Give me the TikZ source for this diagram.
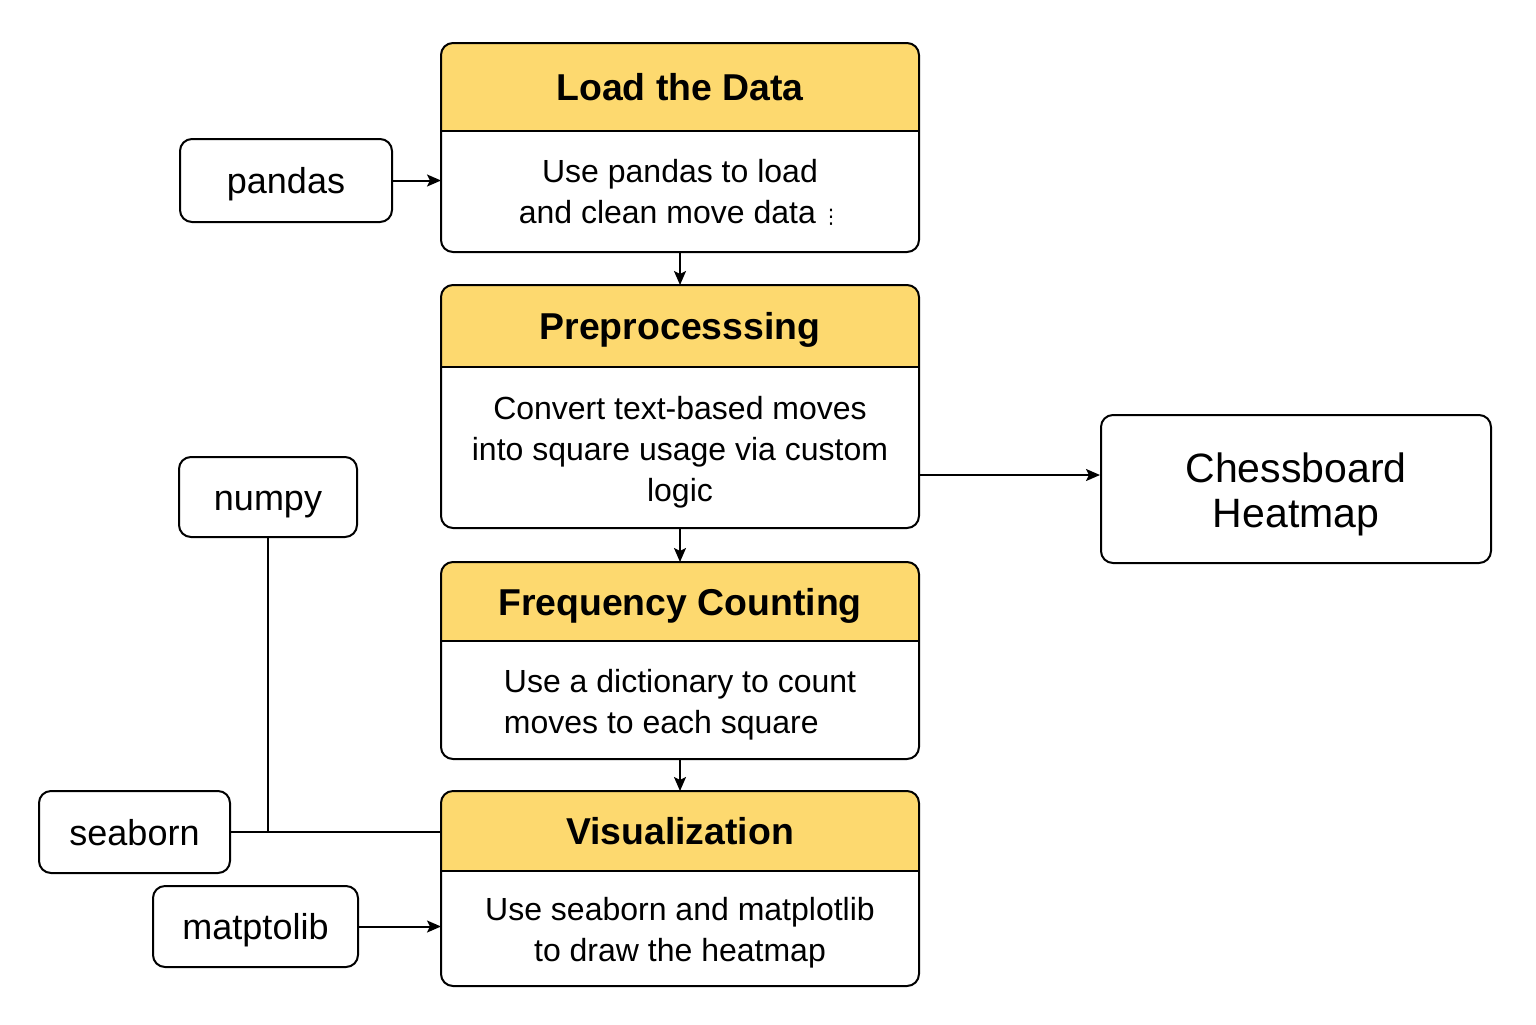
\documentclass[tikz,border=0pt]{standalone}
\usepackage{fontspec}
\setmainfont{Liberation Sans}
\newfontfamily\symfont{DejaVu Sans}
\usetikzlibrary{positioning,arrows.meta,backgrounds}
\definecolor{headyellow}{HTML}{FDD96F}
\begin{document}
\begin{tikzpicture}[x=0.5pt, y=-0.5pt,
box/.style={draw, line width=1pt, rounded corners=6pt},
lib/.style={box, minimum height=#1, inner sep=0pt, text height=13pt, text depth=0pt, font=\fontsize{18}{22}\selectfont},
stagehead/.style={minimum width=239pt, minimum height=#1, inner sep=0pt, outer sep=0pt, text height=13.5pt, text depth=0pt, font=\fontsize{18.7}{22}\selectfont\bfseries},
stagebody/.style={minimum width=239pt, minimum height=#1, inner sep=0pt, outer sep=0pt, anchor=north, align=center, font=\fontsize{16}{20.5}\selectfont},
arr/.style={-{Stealth[length=7pt, width=6pt, inset=1.5pt]}, line width=1pt}]
\useasboundingbox (0,0) rectangle (1536,1024);
\node[stagehead=44pt] (load-h) at (680,87) {Load the Data};
\node[stagebody=59.5pt, yshift=-1pt] (load-b) at (load-h.south) {Use pandas to load\\and clean move data\,{\symfont\fontsize{10}{12}\selectfont ⋮}};
\node[stagehead=41pt, below=16.5pt of load-b] (prep-h) {Preprocesssing};
\node[stagebody=75.5pt, yshift=-5pt] (prep-b) at (prep-h.south) {Convert text-based moves\\into square usage via custom\\logic};
\node[stagehead=39.5pt, below=17pt of prep-b] (freq-h) {Frequency Counting};
\node[stagebody=54pt, yshift=-5pt, align=left] (freq-b) at (freq-h.south) {Use a dictionary to count\\moves to each square};
\node[stagehead=40pt, below=16pt of freq-b] (vis-h) {Visualization};
\node[stagebody=53.5pt, yshift=-4pt] (vis-b) at (vis-h.south) {Use seaborn and matplotlib\\to draw the heatmap};
\node[lib=41.5pt, minimum width=106pt] (pandas) at (286,180.5) {pandas};
\node[lib=40pt, minimum width=89pt] (numpy) at (268,497) {numpy};
\node[lib=41pt, minimum width=95.5pt] (seaborn) at (134.5,832) {seaborn};
\node[lib=40.5pt, minimum width=102.5pt] (matplotlib) at (255.5,926.5) {matptolib};
\node[box, minimum width=195pt, minimum height=74pt,
  label={[align=center, font=\fontsize{20.5}{22.5}\selectfont, yshift=-2.5pt]center:{Chessboard\\Heatmap}}] (chess) at (1296,489) {};
\begin{scope}[on background layer]
\fill[white] (0,0) rectangle (1536,1024);
\foreach \s in {load,prep,freq,vis} {
  \begin{scope}
    \clip[rounded corners=6pt] (\s-h.north west) rectangle (\s-b.south east);
    \fill[headyellow] (\s-h.north west) rectangle (\s-h.south east);
  \end{scope}
}
\end{scope}
\foreach \s in {load,prep,freq,vis} {
  \draw[line width=1pt, rounded corners=6pt] (\s-h.north west) rectangle (\s-b.south east);
  \draw[line width=1pt] (\s-h.south west) -- (\s-h.south east);
}
\draw[arr] (pandas.east) -- (pandas.east -| load-b.west);
\draw[arr] (load-b.south) -- (prep-h.north);
\draw[arr] (prep-b.south) -- (freq-h.north);
\draw[arr] (freq-b.south) -- (vis-h.north);
\draw[arr] ([yshift=-11.25pt]prep-b.east) coordinate (pc) -- (pc -| chess.west);
\draw[line width=1pt] (numpy.south) -- (numpy.south |- seaborn.east);
\draw[line width=1pt] (seaborn.east) -- (seaborn.east -| vis-h.west);
\draw[arr] (matplotlib.east) -- (matplotlib.east -| vis-b.west);
\end{tikzpicture}
\end{document}
